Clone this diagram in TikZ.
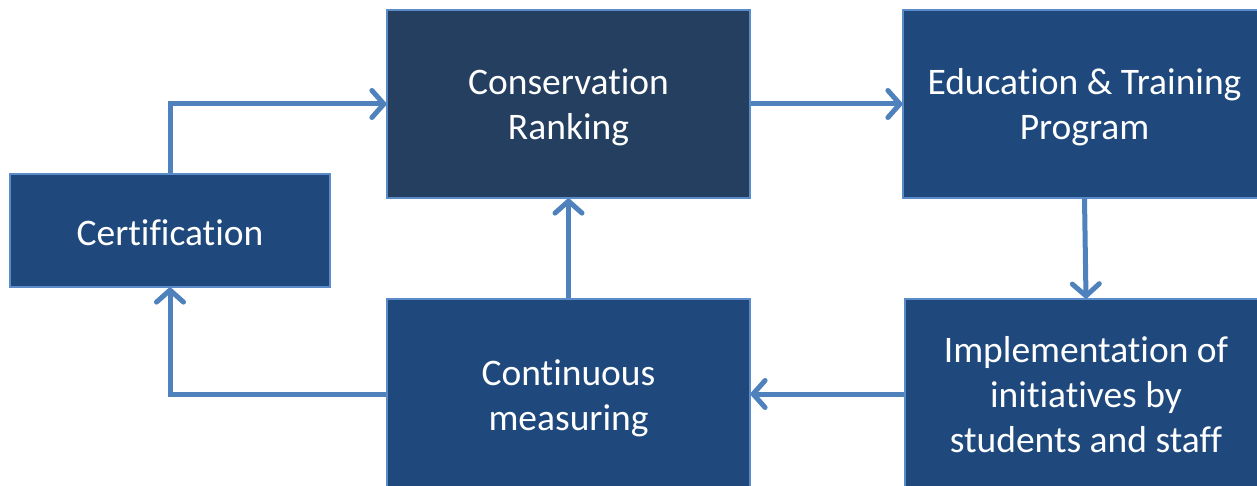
\documentclass[tikz,border=0pt]{standalone}
\usepackage{fontspec}
\setmainfont{Carlito}[Ligatures={NoCommon,NoRequired,NoContextual,NoRare},RawFeature={-liga;-clig;-calt}]
\usetikzlibrary{arrows.meta}
\definecolor{boxfill}{HTML}{1F497D}
\definecolor{boxdark}{HTML}{243F60}
\definecolor{boxedge}{HTML}{5B8BC9}
\definecolor{flow}{HTML}{4F81BD}
\tikzset{
  stage/.style={draw=boxedge, line width=1.2pt, fill=boxfill, inner sep=0pt},
  stagetext/.style={text=white, align=center, inner sep=0pt,
    font=\fontsize{37.5}{45}\selectfont},
  flowarrow/.style={draw=flow, line width=5pt,
    -{Straight Barb[round, length=12pt, width=27pt, line width=5pt]}},
}
\begin{document}
\begin{tikzpicture}[x=1pt, y=-1pt]
  \useasboundingbox (0,0) rectangle (1257,486);
  \clip (0,0) rectangle (1257,486);
  % process stages
  \node[stage, minimum width=320pt, minimum height=113pt] (cert) at (170,230.5) {};
  \node[stage, fill=boxdark, minimum width=363pt, minimum height=188pt] (cons) at (568.5,104) {};
  \node[stage, minimum width=363pt, minimum height=188pt] (edu) at (1084.5,104) {};
  \node[stage, minimum width=362pt, minimum height=190pt] (impl) at (1086,394) {};
  \node[stage, minimum width=363pt, minimum height=190pt] (cont) at (568.5,394) {};
  % stage captions
  \node[stagetext] (certtext) at ([yshift=-2.5pt]cert.center) {Certification};
  \node[stagetext] (constext) at ([yshift=-3pt]cons.center) {Conservation\\Ranking};
  \node[stagetext] (edutext) at ([yshift=-3pt]edu.center) {Education \& Training\\Program};
  \node[stagetext] (impltext) at ([yshift=-1pt]impl.center) {Implementation of\\initiatives by\\students and staff};
  \node[stagetext] (conttext) at ([yshift=-4pt]cont.center) {Continuous\\measuring};
  % flow between stages
  \draw[flowarrow] (cert.north) |- (cons.west);
  \draw[flowarrow] (cons.east) -- (edu.west);
  \draw[flowarrow] (edu.south) -- (impl.north);
  \draw[flowarrow] (impl.west) -- (cont.east);
  \draw[flowarrow] (cont.north) -- (cons.south);
  \draw[flowarrow] (cont.west) -| (cert.south);
\end{tikzpicture}
\end{document}
